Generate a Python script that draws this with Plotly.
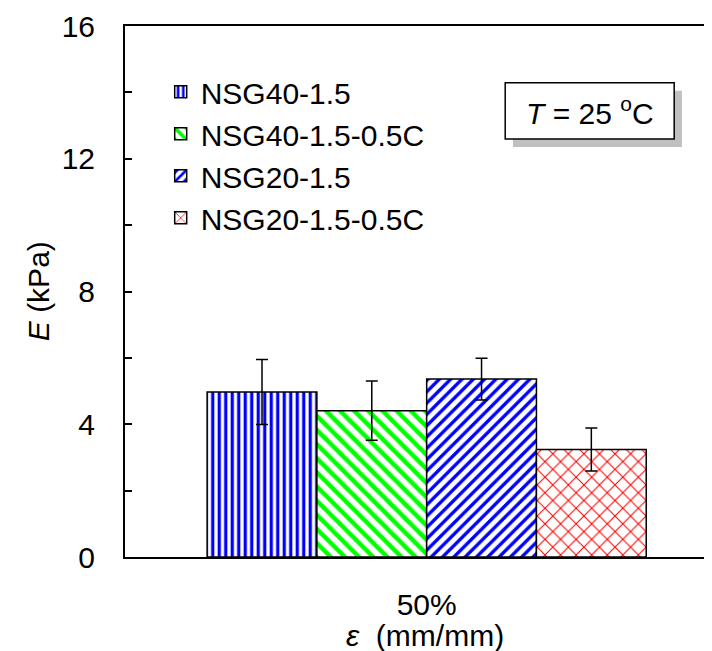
import plotly.graph_objects as go

categories = ["50%"]
series_names = ["NSG40-1.5", "NSG40-1.5-0.5C", "NSG20-1.5", "NSG20-1.5-0.5C"]
values = [4.97, 4.41, 5.36, 3.24]
errors = [0.98, 0.89, 0.63, 0.65]
y_tick_vals = [0, 4, 8, 12, 16]
y_tick_text = ["0", "4", "8", "12", "16"]

pattern_shapes = ["|", "\\", "/", "x"]
pattern_colors = ["#0000FF", "#00FF00", "#0000FF", "#FF0000"]
pattern_sizes = [6.5, 10, 8, 11]
pattern_solid = [0.5, 0.45, 0.42, 0.18]

FONT = "Liberation Sans, Arial, sans-serif"

fig = go.Figure()
for i, name in enumerate(series_names):
    fig.add_trace(go.Bar(
        x=categories, y=[values[i]], name=name,
        marker=dict(color="white",
                    line=dict(color="black", width=1.5),
                    pattern=dict(shape=pattern_shapes[i], fgcolor=pattern_colors[i],
                                 bgcolor="white", size=pattern_sizes[i],
                                 solidity=pattern_solid[i], fillmode="replace")),
        error_y=dict(type="data", array=[errors[i]], visible=True,
                     color="black", thickness=1.5, width=6),
    ))

fig.update_layout(
    width=712, height=651,
    margin=dict(l=117, r=0, t=18, b=102),
    paper_bgcolor="white", plot_bgcolor="white",
    barmode="group", bargap=0.262, bargroupgap=0,
    font=dict(family=FONT, size=30, color="black"),
    showlegend=True,
    legend=dict(x=0.06, y=0.925, xanchor="left", yanchor="top",
                bgcolor="rgba(0,0,0,0)", font=dict(size=30, family=FONT),
                itemclick=False, tracegroupgap=0),
    xaxis=dict(type="category", range=[-0.507, 0.493], showline=True,
               linecolor="black", linewidth=2, mirror=True, ticks="",
               showgrid=False, zeroline=False, ticklabelstandoff=20,
               tickfont=dict(size=30, family=FONT)),
    yaxis=dict(range=[0, 16], tickvals=y_tick_vals, ticktext=y_tick_text,
               showline=True, linecolor="black", linewidth=2, mirror=False,
               ticks="inside", ticklen=7, tickwidth=1.5, tickcolor="black",
               minor=dict(ticks="inside", ticklen=7, dtick=2, tickwidth=1.5,
                          tickcolor="black", showgrid=False),
               showgrid=False, zeroline=False, ticklabelstandoff=22,
               tickfont=dict(size=30, family=FONT)),
)

# annotation box shadow and frame
fig.add_shape(type="rect", xref="paper", yref="paper",
              x0=0.652, x1=0.936, y0=0.772, y1=0.878,
              fillcolor="#C0C0C0", line=dict(width=0))
fig.add_shape(type="rect", xref="paper", yref="paper",
              x0=0.639, x1=0.923, y0=0.787, y1=0.893,
              fillcolor="white", line=dict(color="black", width=1.5))
fig.add_annotation(xref="paper", yref="paper", x=0.781, y=0.840,
                   text="<i>T</i> = 25 <sup>o</sup>C", showarrow=False,
                   font=dict(size=30, family=FONT), xanchor="center", yanchor="middle")

# axis titles
fig.add_annotation(xref="paper", yref="paper", x=-0.145, y=0.5,
                   text="<i>E</i> (kPa)", textangle=-90, showarrow=False,
                   font=dict(size=30, family=FONT), xanchor="center", yanchor="middle")
fig.add_annotation(xref="paper", yref="paper", x=0.504, y=-0.147,
                   text="<i>ε</i>  (mm/mm)", showarrow=False,
                   font=dict(size=30, family=FONT), xanchor="center", yanchor="middle")

fig.write_html("out.html")
